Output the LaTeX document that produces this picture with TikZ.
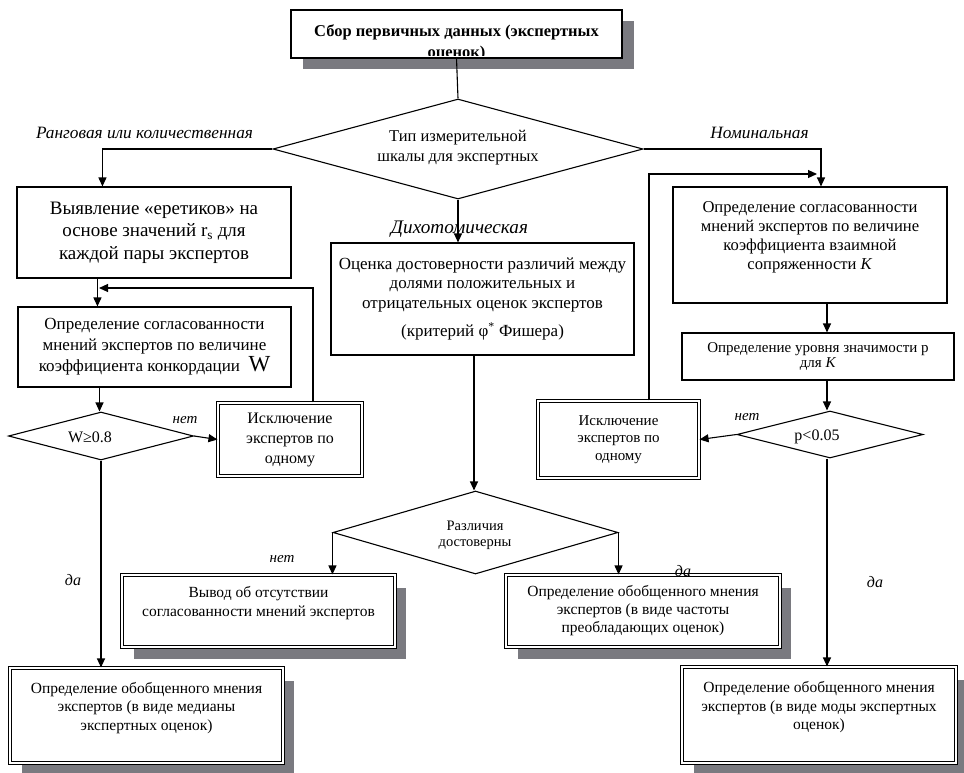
\documentclass[tikz,border=0pt]{standalone}
\usepackage{fontspec}
\setmainfont{Liberation Serif}
\usetikzlibrary{shapes.geometric,arrows.meta,shadows}

\definecolor{shade}{RGB}{122,122,128}

\newcommand{\fs}[2]{\fontsize{#1}{#2}\selectfont}

\begin{document}
\begin{tikzpicture}[x=1pt,y=-1pt,
  conn/.style={line width=1.1pt},
  arr/.style={conn,-{Triangle[length=9pt,width=8pt]}},
  box/.style={draw,line width=1.1pt,fill=white,align=center,inner sep=0pt},
  dbox/.style={draw,line width=1.1pt,double=white,double distance=2pt,
    fill=white,align=center,inner sep=0pt},
  shadowed/.style={drop shadow={shadow xshift=11pt,shadow yshift=-12pt,
    fill=shade,opacity=1,draw=white,line width=0.8pt}},
  dec/.style={draw,diamond,line width=1.1pt,fill=white,inner sep=0pt},
  inlbl/.style={align=center,inner sep=0pt},
  lbl/.style={font=\fs{17.3}{19}\itshape,inner sep=0pt},
  small/.style={font=\fs{15}{17}\itshape,inner sep=0pt},
  yes/.style={font=\fs{16}{18}\itshape,inner sep=0pt},
]
\useasboundingbox (0,0) rectangle (964,772);

% --- title box; its second line is cut off by the frame
\node[fill=white,minimum width=331,minimum height=48,inner sep=0pt,
  drop shadow={shadow xshift=12pt,shadow yshift=-11pt,fill=shade,opacity=1}]
  (top) at (456.5,34) {};
\begin{scope}
  \clip (291,10) rectangle (622,55);
  \node[inlbl,anchor=north,font=\fs{16.5}{21.5}\bfseries] (toptext) at (456.5,24)
    {Сбор первичных данных (экспертных\\оценок)};
\end{scope}
\draw[line width=1.6pt] (top.south west) rectangle (top.north east);

% --- scale type decision
\node[dec,minimum width=370,minimum height=100] (d) at (458,149) {};
\node[inlbl,font=\fs{16.5}{20}] (dtext) at (458,148)
  {Тип измерительной\\шкалы для экспертных};

% --- left column
\node[box,minimum width=274,minimum height=91,font=\fs{19}{22.5}] (b1) at (154,232.5)
  {Выявление «еретиков» на\\основе значений r\textsubscript{s} для\\каждой пары экспертов};
\node[box,minimum width=273,minimum height=80,font=\fs{17}{21}] (b2) at (154.5,347)
  {Определение согласованности\\мнений экспертов по величине\\коэффициента конкордации\enspace{\fs{23}{21}W}};
\node[dec,minimum width=185,minimum height=48] (dw) at (101,436) {};
\node[inlbl,font=\fs{16}{18}] (dwtext) at (90,437) {W≥0.8};
\node[dbox,minimum width=144,minimum height=73,font=\fs{16}{20}] (exL) at (290,439.5)
  {Исключение\\экспертов по\\одному};
\node[dbox,shadowed,minimum width=273,minimum height=95,font=\fs{15.5}{18.5}] (finL) at (146.5,715.5)
  {Определение обобщенного мнения\\экспертов (в виде медианы\\экспертных оценок)\\ };

% --- middle column
\node[box,minimum width=303,minimum height=112,font=\fs{17}{19.5}] (mid) at (482.5,299)
  {Оценка достоверности различий между\\долями положительных и\\отрицательных оценок экспертов\\[9pt](критерий φ\textsuperscript{*} Фишера)};
\node[dec,minimum width=285,minimum height=83] (dd) at (475.5,532.5) {};
\node[inlbl,font=\fs{14.5}{16}] (ddtext) at (475,535) {Различия\\достоверны};
\node[dbox,shadowed,minimum width=273,minimum height=72,font=\fs{15.5}{19}] (vyv) at (258.5,611)
  {Вывод об отсутствии\\согласованности мнений экспертов\\ };
\node[dbox,shadowed,minimum width=274,minimum height=72,font=\fs{15.5}{18}] (cha) at (643,611)
  {Определение обобщенного мнения\\экспертов (в виде частоты\\преобладающих оценок)};

% --- right column
\node[box,minimum width=274,minimum height=116,font=\fs{16.6}{19}] (r1) at (810,245)
  {Определение согласованности\\мнений экспертов по величине\\коэффициента взаимной\\сопряженности \textit{K}\\ };
\node[box,minimum width=272,minimum height=47,font=\fs{15}{15.5}] (r2) at (818,356.5)
  {Определение уровня значимости p\\для \textit{K}};
\node[dec,minimum width=186,minimum height=47] (dp) at (830,434.5) {};
\node[inlbl,font=\fs{16}{18}] (dptext) at (817,437) {p<0.05};
\node[dbox,minimum width=161,minimum height=77,font=\fs{15}{17.5}] (exR) at (618.5,439.5)
  {Исключение\\экспертов по\\одному};
\node[dbox,shadowed,minimum width=274,minimum height=96,font=\fs{15.5}{18.5}] (finR) at (819,715)
  {Определение обобщенного мнения\\экспертов (в виде моды экспертных\\оценок)\\ };

% --- junction points of the feedback loops
\coordinate (jL) at (99,288);
\coordinate (jR) at (821,174);

% --- connectors
\draw[conn] (top.south) -- (d.north);
\draw[arr] (d.west) -| ([xshift=86pt]b1.north west);
\draw[arr] ([xshift=81pt]b1.south west) -- ([xshift=81pt]b1.south west |- b2.north);
\draw[arr] ([xshift=23pt]exL.north) |- (jL);
\draw[arr] ([xshift=-55pt]b2.south) -- ([xshift=-55pt]b2.south |- dw.north);
\draw[arr] (dw.east) -- (exL.west);
\draw[arr] (dw.south) -- (dw.south |- finL.north);

\draw[arr] (d.south) -- (d.south |- mid.north);
\draw[arr] ([xshift=-8.5pt]mid.south) -- ([xshift=-8.5pt]mid.south |- dd.north);
\draw[arr] (dd.west) -- (dd.west |- vyv.north);
\draw[arr] (dd.east) -- (dd.east |- cha.north);

\draw[arr] (d.east) -| ([xshift=11pt]r1.north);
\draw[arr] ([xshift=30.5pt]exR.north) |- ([xshift=-4pt]jR);
\draw[arr] ([xshift=17pt]r1.south) -- ([xshift=17pt]r1.south |- r2.north);
\draw[arr] ([xshift=9pt]r2.south) -- ([xshift=9pt]r2.south |- dp.north);
\draw[arr] (dp.west) -- (exR.east);
\draw[arr] ([xshift=-3pt]dp.south) -- ([xshift=-3pt]dp.south |- finR.north);

% --- branch labels
\node[lbl] (lrank) at (144.5,133) {Ранговая или количественная};
\node[lbl] (lnom) at (759.5,133) {Номинальная};
\node[lbl,font=\fs{19.2}{21}\itshape] (ldich) at (459.5,229) {Дихотомическая};
\node[small] (lnoL) at (185,420) {нет};
\node[small] (lnoR) at (747,417) {нет};
\node[small] (lnoM) at (282,559) {нет};
\node[yes] (lyesL) at (73,580) {да};
\node[yes] (lyesM) at (683,571) {да};
\node[yes] (lyesR) at (875,582) {да};
\end{tikzpicture}
\end{document}
